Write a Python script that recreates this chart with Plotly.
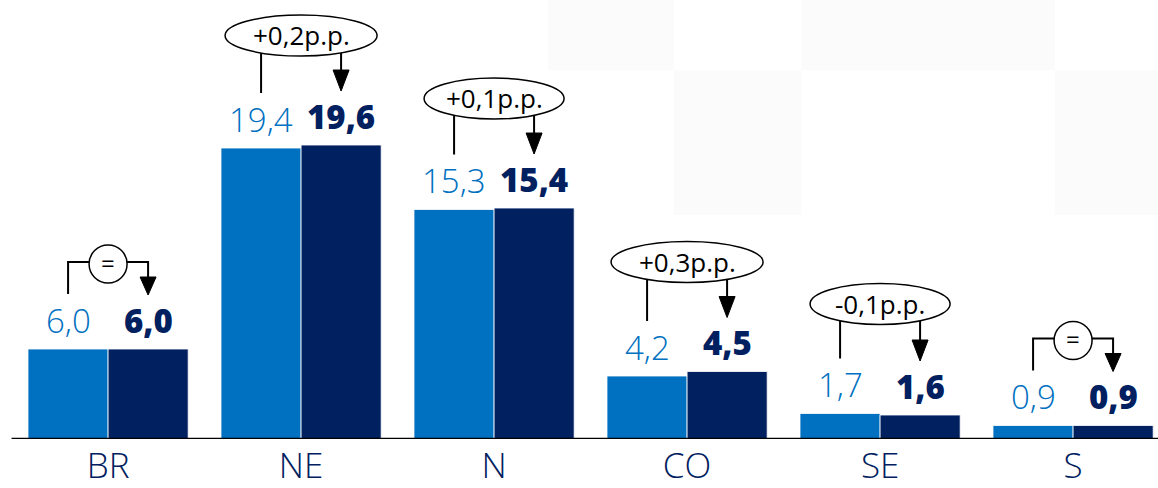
import plotly.graph_objects as go

categories = ["BR", "NE", "N", "CO", "SE", "S"]
prev_values = [6.0, 19.4, 15.3, 4.2, 1.7, 0.9]
curr_values = [6.0, 19.6, 15.4, 4.5, 1.6, 0.9]
change_labels = ["=", "+0,2p.p.", "+0,1p.p.", "+0,3p.p.", "-0,1p.p.", "="]

LIGHT = "#0070C0"
DARK = "#002060"
FONT = "Open Sans"

def fmt(v):
    return f"{v:.1f}".replace(".", ",")

x = list(range(len(categories)))

fig = go.Figure()
fig.add_trace(go.Bar(x=x, y=prev_values, marker=dict(color=LIGHT, line=dict(color="white", width=0.8)),
                     hoverinfo="skip"))
fig.add_trace(go.Bar(x=x, y=curr_values, marker=dict(color=DARK, line=dict(color="white", width=0.8)),
                     hoverinfo="skip"))

shapes = []
annotations = []
OFF = 40  # pixel offset of bar centres from group centre
LW = 2

for i, (a, b, lab) in enumerate(zip(prev_values, curr_values, change_labels)):
    annotations.append(dict(x=i, y=a, xshift=-OFF, yshift=29, text=fmt(a), showarrow=False,
                            font=dict(family=FONT, size=33, color=LIGHT, weight=300), yanchor="middle"))
    annotations.append(dict(x=i, y=b, xshift=OFF, yshift=29, text=fmt(b), showarrow=False,
                            font=dict(family=FONT, size=33, color=DARK, weight=800), yanchor="middle"))
    m = max(a, b)
    common = dict(xref="x", yref="y", xsizemode="pixel", ysizemode="pixel", xanchor=i)
    if lab == "=":
        shapes.append(dict(type="path", yanchor=m,
                           path=f"M {-OFF},55 L {-OFF},87 L {OFF},87 L {OFF},70",
                           line=dict(color="black", width=LW), **common))
        shapes.append(dict(type="path", yanchor=b,
                           path=f"M {OFF-8},72 L {OFF+8},72 L {OFF},54 Z",
                           line=dict(color="black", width=1), fillcolor="black", **common))
        shapes.append(dict(type="circle", yanchor=m, x0=-19, x1=19, y0=66, y1=104,
                           line=dict(color="black", width=1.5), fillcolor="white", **common))
        annotations.append(dict(x=i, y=m, yshift=87, text="=", showarrow=False,
                                font=dict(family=FONT, size=24, color="black"), yanchor="middle"))
    else:
        w = 140 if "1" in lab else 152
        shapes.append(dict(type="path", yanchor=a,
                           path=f"M {-OFF},55 L {-OFF},108",
                           line=dict(color="black", width=LW), **common))
        shapes.append(dict(type="path", yanchor=b,
                           path=f"M {OFF},70 L {OFF},108",
                           line=dict(color="black", width=LW), **common))
        shapes.append(dict(type="path", yanchor=b,
                           path=f"M {OFF-8},75 L {OFF+8},75 L {OFF},54 Z",
                           line=dict(color="black", width=1), fillcolor="black", **common))
        shapes.append(dict(type="circle", yanchor=m, x0=-w / 2, x1=w / 2, y0=89, y1=130,
                           line=dict(color="black", width=1.5), fillcolor="white", **common))
        annotations.append(dict(x=i, y=m, yshift=110, text=lab, showarrow=False,
                                font=dict(family=FONT, size=26, color="black"),
                                yanchor="middle"))

# very faint checkered background squares (decorative, paper coords)
bg = []
for (x0, x1, y0, y1) in [(0.473, 0.582, 0.84, 1.0), (0.692, 0.801, 0.84, 1.0),
                         (0.582, 0.692, 0.51, 0.84), (0.911, 1.0, 0.51, 0.84),
                         (0.80, 0.911, 0.84, 1.0)]:
    bg.append(dict(type="rect", xref="paper", yref="paper", x0=x0, x1=x1, y0=y0, y1=y1,
                   fillcolor="#FBFBFB", line=dict(width=0), layer="below"))

fig.update_layout(
    width=1158, height=488,
    margin=dict(l=0, r=0, t=0, b=49, autoexpand=False),
    paper_bgcolor="white", plot_bgcolor="rgba(0,0,0,0)",
    barmode="group", bargap=0.17, bargroupgap=0,
    showlegend=False,
    shapes=bg + shapes, annotations=annotations,
    xaxis=dict(range=[-0.56, 5.44], tickvals=x, ticktext=categories, showgrid=False,
               zeroline=False, showline=False, ticks="", ticklabelstandoff=3, automargin=False,
               tickfont=dict(family=FONT, size=35, color=DARK, weight=300), fixedrange=True),
    yaxis=dict(range=[0, 29.27], visible=False, fixedrange=True, automargin=False),
)
fig.add_shape(type="line", xref="paper", yref="y", x0=0.01, x1=1, y0=0, y1=0,
              line=dict(color="black", width=2.5))

fig.write_html("out.html", config={"displayModeBar": False})
